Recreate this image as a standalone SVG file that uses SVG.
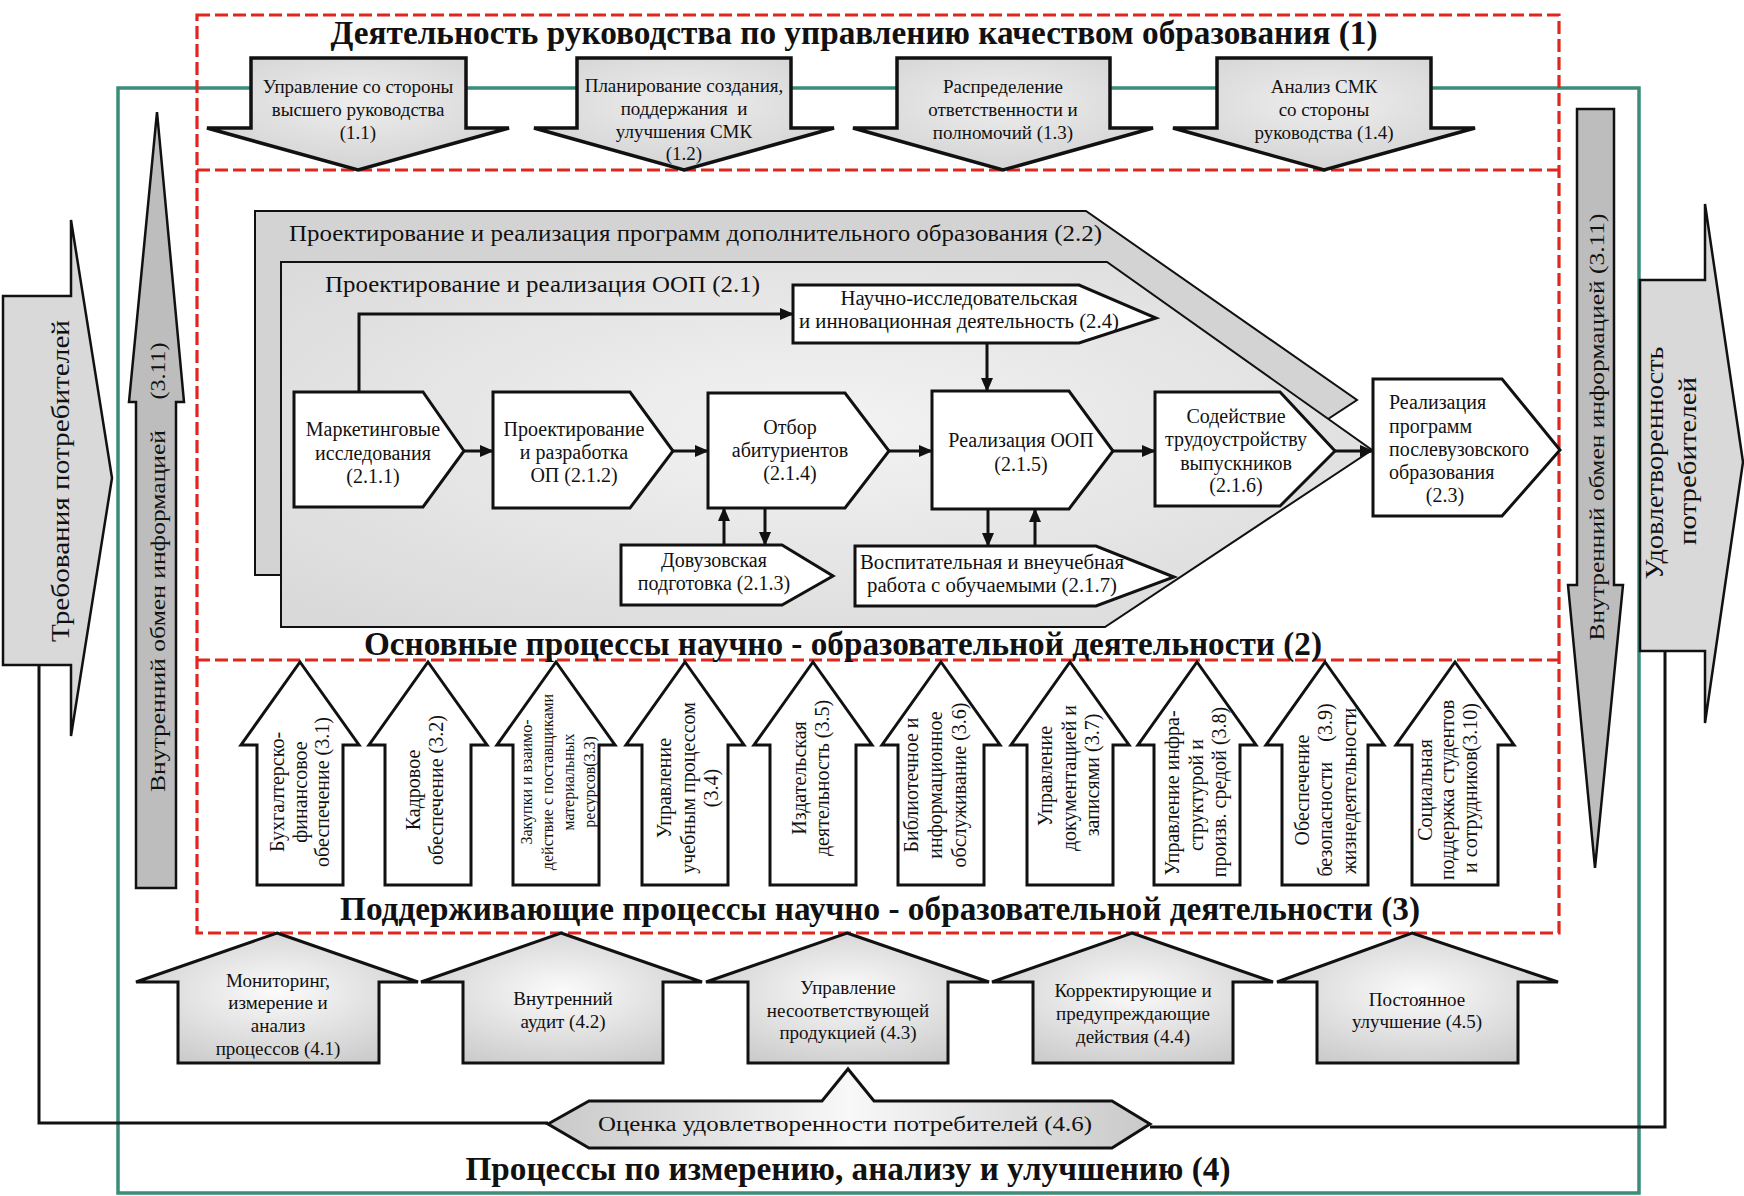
<svg xmlns="http://www.w3.org/2000/svg" width="1744" height="1196" viewBox="0 0 1744 1196">
<style>
text{font-family:"Liberation Serif","Times New Roman",serif;fill:#111;}
.t{font-size:19px;text-anchor:middle;dominant-baseline:central;}
.tn{font-size:20px;text-anchor:middle;dominant-baseline:central;}
.tv{font-size:20px;text-anchor:middle;dominant-baseline:central;}
.tvs{font-size:16px;text-anchor:middle;dominant-baseline:central;}
.title{font-size:33px;font-weight:bold;text-anchor:middle;dominant-baseline:central;}
.big{font-size:26px;text-anchor:middle;dominant-baseline:central;}
.arrTop{fill:url(#gTop);stroke:#111;stroke-width:3.5;stroke-linejoin:miter;}
.arrSup{fill:#fff;stroke:#111;stroke-width:3;}
.arrMeas{fill:url(#gMeas);stroke:#111;stroke-width:3;}
.node{fill:#fff;stroke:#111;stroke-width:3;}
.side{fill:#d9d9d9;stroke:#111;stroke-width:2.5;}
.info{fill:#bdbdbd;stroke:#111;stroke-width:2.5;}
.conn{fill:none;stroke:#111;stroke-width:3;}
.red{fill:none;stroke:#e0261f;stroke-width:3.2;stroke-dasharray:13,5;}
</style>
<defs>
<radialGradient id="gTop" cx="0.5" cy="0.4" r="0.7">
<stop offset="0" stop-color="#eeeeee"/><stop offset="1" stop-color="#cfcfcf"/>
</radialGradient>
<radialGradient id="gMeas" cx="0.5" cy="0.45" r="0.65">
<stop offset="0" stop-color="#fbfbfb"/><stop offset="1" stop-color="#c9c9c9"/>
</radialGradient>
<radialGradient id="g21" cx="0.5" cy="0.45" r="0.7">
<stop offset="0" stop-color="#f3f3f3"/><stop offset="1" stop-color="#d9d9d9"/>
</radialGradient>
<linearGradient id="g46" x1="0" y1="0" x2="1" y2="0">
<stop offset="0" stop-color="#c9c9c9"/><stop offset="0.5" stop-color="#f8f8f8"/><stop offset="1" stop-color="#c9c9c9"/>
</linearGradient>
<marker id="ah" markerUnits="userSpaceOnUse" markerWidth="14" markerHeight="12" viewBox="0 0 14 12" refX="13" refY="6" orient="auto">
<path d="M0,0 L14,6 L0,12 z" fill="#111"/>
</marker>
</defs>
<rect width="1744" height="1196" fill="#fff"/>

<!-- frames -->
<g id="frames">
<rect x="118" y="88" width="1521" height="1105" fill="none" stroke="#3b8c78" stroke-width="3.5"/>
<rect class="red" x="197" y="15" width="1362" height="918"/>
<line class="red" x1="197" y1="170" x2="1559" y2="170"/>
<line class="red" x1="197" y1="660" x2="1559" y2="660"/>
</g>

<!-- section titles -->
<g id="titles">
<text class="title" x="854" y="33" textLength="1047" lengthAdjust="spacingAndGlyphs">Деятельность руководства по управлению качеством образования (1)</text>
<text class="title" x="843" y="644" textLength="958" lengthAdjust="spacingAndGlyphs">Основные процессы научно - образовательной деятельности (2)</text>
<text class="title" x="880" y="909" textLength="1080" lengthAdjust="spacingAndGlyphs">Поддерживающие процессы научно - образовательной деятельности (3)</text>
<text class="title" x="848" y="1169" textLength="765" lengthAdjust="spacingAndGlyphs">Процессы по измерению, анализу и улучшению (4)</text>
</g>

<!-- side arrows -->
<g id="req">
<polygon class="side" points="3,296 71,296 71,220 112,478 71,736 71,665 3,665"/>
<text class="big" transform="translate(60,481) rotate(-90)" textLength="322" lengthAdjust="spacingAndGlyphs">Требования  потребителей</text>
</g>
<g id="sat">
<polygon class="side" points="1640,280 1705,280 1705,204 1743,462 1705,723 1705,651 1640,651"/>
<text class="big" transform="translate(1654,463) rotate(-90)" textLength="233" lengthAdjust="spacingAndGlyphs">Удовлетворенность</text>
<text class="big" transform="translate(1687,461) rotate(-90)" textLength="168" lengthAdjust="spacingAndGlyphs">потребителей</text>
</g>
<g id="info-left">
<polygon class="info" points="157,112 184,402 176,402 176,888 136,888 136,402 129,402"/>
<text class="tn" style="font-size:22px" transform="translate(157,611) rotate(-90)" textLength="362" lengthAdjust="spacingAndGlyphs">Внутренний обмен информацией</text>
<text class="tn" style="font-size:22px" transform="translate(157,371) rotate(-90)" textLength="57" lengthAdjust="spacingAndGlyphs">(3.11)</text>
</g>
<g id="info-right">
<polygon class="info" points="1577,109 1614,109 1614,585 1623,585 1595,868 1568,585 1577,585"/>
<text class="tn" style="font-size:22px" transform="translate(1596,427) rotate(-90)" textLength="427" lengthAdjust="spacingAndGlyphs">Внутренний обмен информацией (3.11)</text>
</g>

<!-- section 1 -->
<g id="n1-1">
<polygon class="arrTop" points="251,58 466,58 466,128 509,128 358,170 207,128 251,128"/>
<text class="t" x="358" y="86">Управление со стороны</text>
<text class="t" x="358" y="109">высшего руководства</text>
<text class="t" x="358" y="132">(1.1)</text>
</g>
<g id="n1-2">
<polygon class="arrTop" points="577,58 791,58 791,128 834,128 684,170 534,128 577,128"/>
<text class="t" x="684" y="85">Планирование создания,</text>
<text class="t" x="684" y="108" xml:space="preserve">поддержания  и</text>
<text class="t" x="684" y="131">улучшения СМК</text>
<text class="t" x="684" y="153">(1.2)</text>
</g>
<g id="n1-3">
<polygon class="arrTop" points="897,58 1110,58 1110,128 1153,128 1003,170 853,128 897,128"/>
<text class="t" x="1003" y="86">Распределение</text>
<text class="t" x="1003" y="109">ответственности и</text>
<text class="t" x="1003" y="132">полномочий (1.3)</text>
</g>
<g id="n1-4">
<polygon class="arrTop" points="1217,58 1431,58 1431,128 1475,128 1324,170 1173,128 1217,128"/>
<text class="t" x="1324" y="86">Анализ СМК</text>
<text class="t" x="1324" y="109">со стороны</text>
<text class="t" x="1324" y="132">руководства (1.4)</text>
</g>

<!-- section 2 containers -->
<g id="n2-2">
<polygon points="255,211 1086,211 1357,400 1328,419 1100,419 1100,575 255,575" fill="#d3d3d3" stroke="#111" stroke-width="2"/>
<text class="tn" style="font-size:24px;text-anchor:start" x="289" y="233" textLength="813" lengthAdjust="spacingAndGlyphs">Проектирование и реализация программ дополнительного образования (2.2)</text>
</g>
<g id="n2-1">
<polygon points="281,262 1107,262 1372,450 1105,627 281,627" fill="url(#g21)" stroke="#111" stroke-width="2"/>
<text class="tn" style="font-size:24px;text-anchor:start" x="325" y="284" textLength="435" lengthAdjust="spacingAndGlyphs">Проектирование и реализация ООП (2.1)</text>
</g>

<!-- connectors -->
<g id="connectors">
<path class="conn" d="M464,451 L493,451" marker-end="url(#ah)"/>
<path class="conn" d="M673,451 L708,451" marker-end="url(#ah)"/>
<path class="conn" d="M889,451 L932,451" marker-end="url(#ah)"/>
<path class="conn" d="M1113,451 L1155,451" marker-end="url(#ah)"/>
<path class="conn" d="M1335,451 L1373,451" marker-end="url(#ah)"/>
<path class="conn" d="M359,392 L359,314 L793,314" marker-end="url(#ah)"/>
<path class="conn" d="M987,343 L987,391" marker-end="url(#ah)"/>
<path class="conn" d="M724,545 L724,508" marker-end="url(#ah)"/>
<path class="conn" d="M765,508 L765,545" marker-end="url(#ah)"/>
<path class="conn" d="M988,509 L988,546" marker-end="url(#ah)"/>
<path class="conn" d="M1035,546 L1035,509" marker-end="url(#ah)"/>
<path class="conn" d="M39,665 L39,1123 L548,1123"/>
<path class="conn" d="M1150,1127 L1665,1127 L1665,651"/>
</g>

<!-- section 2 nodes -->
<g id="n2-1-1">
<polygon class="node" points="294,392 423,392 464,451 423,507 294,507"/>
<text class="tn" x="373" y="429">Маркетинговые</text>
<text class="tn" x="373" y="453">исследования</text>
<text class="tn" x="373" y="476">(2.1.1)</text>
</g>
<g id="n2-1-2">
<polygon class="node" points="493,392 630,392 673,451 630,508 493,508"/>
<text class="tn" x="574" y="429">Проектирование</text>
<text class="tn" x="574" y="452">и разработка</text>
<text class="tn" x="574" y="475">ОП (2.1.2)</text>
</g>
<g id="n2-1-4">
<polygon class="node" points="708,393 845,393 889,451 845,508 708,508"/>
<text class="tn" x="790" y="427">Отбор</text>
<text class="tn" x="790" y="450">абитуриентов</text>
<text class="tn" x="790" y="473">(2.1.4)</text>
</g>
<g id="n2-1-5">
<polygon class="node" points="932,391 1069,391 1113,451 1069,509 932,509"/>
<text class="tn" x="1021" y="440">Реализация ООП</text>
<text class="tn" x="1021" y="464">(2.1.5)</text>
</g>
<g id="n2-1-6">
<polygon class="node" points="1155,392 1280,392 1335,451 1280,506 1155,506"/>
<text class="tn" x="1236" y="416">Содействие</text>
<text class="tn" x="1236" y="439">трудоустройству</text>
<text class="tn" x="1236" y="463">выпускников</text>
<text class="tn" x="1236" y="485">(2.1.6)</text>
</g>
<g id="n2-3">
<polygon class="node" points="1373,379 1502,379 1560,450 1502,516 1373,516"/>
<text class="tn" style="text-anchor:start" x="1389" y="402">Реализация</text>
<text class="tn" style="text-anchor:start" x="1389" y="426">программ</text>
<text class="tn" style="text-anchor:start" x="1389" y="449">послевузовского</text>
<text class="tn" style="text-anchor:start" x="1389" y="472">образования</text>
<text class="tn" x="1445" y="495">(2.3)</text>
</g>
<g id="n2-4">
<polygon class="node" points="793,285 1079,285 1156,318 1079,343 793,343"/>
<text class="tn" x="959" y="298" textLength="237" lengthAdjust="spacingAndGlyphs">Научно-исследовательская</text>
<text class="tn" x="959" y="321" textLength="320" lengthAdjust="spacingAndGlyphs">и инновационная деятельность (2.4)</text>
</g>
<g id="n2-1-3">
<polygon class="node" points="621,545 782,545 833,576 782,605 621,605"/>
<text class="tn" x="714" y="560">Довузовская</text>
<text class="tn" x="714" y="583">подготовка (2.1.3)</text>
</g>
<g id="n2-1-7">
<polygon class="node" points="855,546 1096,546 1174,577 1096,606 855,606"/>
<text class="tn" x="992" y="562" textLength="264" lengthAdjust="spacingAndGlyphs">Воспитательная и внеучебная</text>
<text class="tn" x="992" y="585" textLength="250" lengthAdjust="spacingAndGlyphs">работа с обучаемыми (2.1.7)</text>
</g>

<!-- section 3 -->
<g id="n3-1">
<polygon class="arrSup" points="300,662 359,745 343,745 343,885 257,885 257,745 241,745"/>
<text class="tv" transform="translate(277,792) rotate(-90)">Бухгалтерско-</text>
<text class="tv" transform="translate(300,792) rotate(-90)">финансовое</text>
<text class="tv" transform="translate(322,792) rotate(-90)">обеспечение (3.1)</text>
</g>
<g id="n3-2">
<polygon class="arrSup" points="428,662 487,745 471,745 471,885 385,885 385,745 369,745"/>
<text class="tv" transform="translate(413,790) rotate(-90)">Кадровое</text>
<text class="tv" transform="translate(436,790) rotate(-90)">обеспечение (3.2)</text>
</g>
<g id="n3-3">
<polygon class="arrSup" points="556,662 615,745 599,745 599,885 513,885 513,745 497,745"/>
<text class="tvs" transform="translate(526,782) rotate(-90)">Закупки и взаимо-</text>
<text class="tvs" transform="translate(547,782) rotate(-90)">действие с поставщиками</text>
<text class="tvs" transform="translate(568,782) rotate(-90)">материальных</text>
<text class="tvs" transform="translate(589,782) rotate(-90)">ресурсов(3.3)</text>
</g>
<g id="n3-4">
<polygon class="arrSup" points="685,662 744,745 728,745 728,885 642,885 642,745 626,745"/>
<text class="tv" transform="translate(664,788) rotate(-90)">Управление</text>
<text class="tv" transform="translate(688,788) rotate(-90)">учебным процессом</text>
<text class="tv" transform="translate(711,788) rotate(-90)">(3.4)</text>
</g>
<g id="n3-5">
<polygon class="arrSup" points="813,662 872,745 856,745 856,885 770,885 770,745 754,745"/>
<text class="tv" transform="translate(799,778) rotate(-90)">Издательская</text>
<text class="tv" transform="translate(822,778) rotate(-90)">деятельность (3.5)</text>
</g>
<g id="n3-6">
<polygon class="arrSup" points="941,662 1000,745 984,745 984,885 898,885 898,745 882,745"/>
<text class="tv" transform="translate(911,785) rotate(-90)">Библиотечное и</text>
<text class="tv" transform="translate(935,785) rotate(-90)">информационное</text>
<text class="tv" transform="translate(959,785) rotate(-90)">обслуживание (3.6)</text>
</g>
<g id="n3-7">
<polygon class="arrSup" points="1070,662 1129,745 1113,745 1113,885 1027,885 1027,745 1011,745"/>
<text class="tv" transform="translate(1045,776) rotate(-90)">Управление</text>
<text class="tv" transform="translate(1069,778) rotate(-90)">документацией и</text>
<text class="tv" transform="translate(1092,775) rotate(-90)">записями (3.7)</text>
</g>
<g id="n3-8">
<polygon class="arrSup" points="1197,662 1256,745 1240,745 1240,885 1154,885 1154,745 1138,745"/>
<text class="tv" transform="translate(1172,793) rotate(-90)">Управление инфра-</text>
<text class="tv" transform="translate(1196,795) rotate(-90)">структурой и</text>
<text class="tv" transform="translate(1219,792) rotate(-90)">произв. средой (3.8)</text>
</g>
<g id="n3-9">
<polygon class="arrSup" points="1325,662 1384,745 1368,745 1368,885 1282,885 1282,745 1266,745"/>
<text class="tv" transform="translate(1302,790) rotate(-90)">Обеспечение</text>
<text class="tv" transform="translate(1325,790) rotate(-90)">безопасности&#160;&#160;&#160;&#160;(3.9)</text>
<text class="tv" transform="translate(1349,791) rotate(-90)">жизнедеятельности</text>
</g>
<g id="n3-10">
<polygon class="arrSup" points="1455,662 1514,745 1498,745 1498,885 1412,885 1412,745 1396,745"/>
<text class="tv" transform="translate(1425,790) rotate(-90)">Социальная</text>
<text class="tv" transform="translate(1447,790) rotate(-90)">поддержка студентов</text>
<text class="tv" transform="translate(1470,788) rotate(-90)">и сотрудников(3.10)</text>
</g>

<!-- section 4 -->
<g id="n4-1">
<polygon class="arrMeas" points="277,933 418,982 379,982 379,1063 178,1063 178,982 136,982"/>
<text class="t" x="278" y="980">Мониторинг,</text>
<text class="t" x="278" y="1002">измерение и</text>
<text class="t" x="278" y="1025">анализ</text>
<text class="t" x="278" y="1048">процессов (4.1)</text>
</g>
<g id="n4-2">
<polygon class="arrMeas" points="561,933 702,982 663,982 663,1063 463,1063 463,982 421,982"/>
<text class="t" x="563" y="998">Внутренний</text>
<text class="t" x="563" y="1021">аудит (4.2)</text>
</g>
<g id="n4-3">
<polygon class="arrMeas" points="847,933 989,982 948,982 948,1063 748,1063 748,982 706,982"/>
<text class="t" x="848" y="987">Управление</text>
<text class="t" x="848" y="1010">несоответствующей</text>
<text class="t" x="848" y="1032">продукцией (4.3)</text>
</g>
<g id="n4-4">
<polygon class="arrMeas" points="1132,933 1273,982 1233,982 1233,1063 1033,1063 1033,982 992,982"/>
<text class="t" x="1133" y="990">Корректирующие и</text>
<text class="t" x="1133" y="1013">предупреждающие</text>
<text class="t" x="1133" y="1036">действия (4.4)</text>
</g>
<g id="n4-5">
<polygon class="arrMeas" points="1412,933 1558,982 1518,982 1518,1063 1317,1063 1317,982 1277,982"/>
<text class="t" x="1417" y="999">Постоянное</text>
<text class="t" x="1417" y="1021">улучшение (4.5)</text>
</g>
<g id="n4-6">
<polygon points="548,1124 589,1101 822,1101 848,1069 874,1101 1112,1101 1150,1124 1112,1148 589,1148" fill="url(#g46)" stroke="#111" stroke-width="3"/>
<text class="tn" x="845" y="1124" textLength="494" lengthAdjust="spacingAndGlyphs">Оценка удовлетворенности потребителей (4.6)</text>
</g>
</svg>
